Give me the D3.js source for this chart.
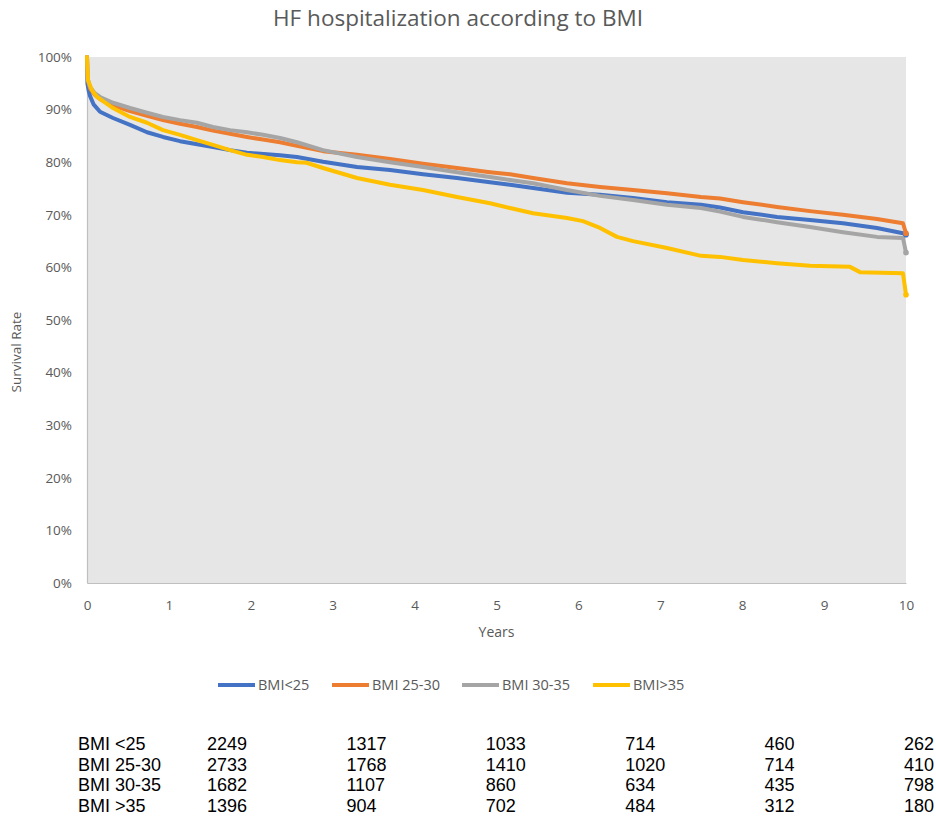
<!DOCTYPE html>
<html>
<head>
<meta charset="utf-8">
<script src="https://cdn.jsdelivr.net/npm/d3@7"></script>
<style>
  body { margin: 0; background: #fff; }
  svg { display: block; }
</style>
</head>
<body>
<div id="chart"></div>
<script>
// survival curves, [years, survival %]
const bmiUnder25 = [[0,100],[0.005,95],[0.02,93.6],[0.037,92.6],[0.08,91.0],[0.159,89.6],[0.317,88.4],[0.525,87.1],[0.733,85.7],[0.928,84.8],[1.136,84.0],[1.538,82.9],[1.746,82.3],[1.954,81.8],[2.357,81.3],[2.564,81.0],[2.882,80.1],[3.297,79.1],[3.7,78.5],[4.103,77.7],[4.518,77.0],[4.921,76.2],[5.165,75.7],[5.446,75.1],[5.861,74.2],[6.264,73.8],[6.667,73.2],[7.082,72.4],[7.497,71.9],[7.729,71.4],[8.01,70.5],[8.425,69.6],[8.828,69.0],[9.231,68.4],[9.646,67.5],[9.963,66.5],[10,66.2]];
const bmi25to30 = [[0,100],[0.005,96],[0.037,94.0],[0.09,92.9],[0.159,92.0],[0.317,90.8],[0.525,89.7],[0.733,88.8],[0.928,88.0],[1.136,87.3],[1.343,86.7],[1.538,86.0],[1.746,85.4],[1.954,84.8],[2.149,84.3],[2.357,83.8],[2.564,83.1],[2.882,82.1],[3.297,81.4],[3.7,80.6],[4.103,79.7],[4.518,78.9],[4.921,78.1],[5.165,77.7],[5.446,77.0],[5.861,76.0],[6.264,75.3],[6.667,74.7],[7.082,74.1],[7.497,73.4],[7.729,73.1],[8.01,72.4],[8.425,71.5],[8.828,70.7],[9.231,70.0],[9.646,69.2],[9.963,68.4],[10,66.5]];
const bmi30to35 = [[0,100],[0.005,96],[0.037,94.3],[0.09,93.2],[0.159,92.4],[0.317,91.3],[0.525,90.3],[0.733,89.4],[0.928,88.6],[1.136,88.0],[1.343,87.5],[1.538,86.7],[1.746,86.1],[1.954,85.7],[2.149,85.2],[2.357,84.6],[2.564,83.8],[2.882,82.3],[3.297,81.0],[3.7,80.0],[4.103,79.1],[4.518,78.1],[4.921,77.2],[5.165,76.6],[5.446,76.0],[5.861,74.7],[6.264,73.6],[6.667,72.8],[7.082,71.9],[7.497,71.3],[7.729,70.6],[8.01,69.6],[8.425,68.6],[8.828,67.7],[9.231,66.7],[9.646,65.8],[9.963,65.6],[10,62.8]];
const bmiOver35 = [[0,100],[0.012,95.6],[0.06,93.7],[0.122,92.4],[0.317,90.3],[0.525,88.6],[0.733,87.5],[0.928,86.1],[1.136,85.2],[1.343,84.2],[1.538,83.3],[1.746,82.3],[1.954,81.4],[2.149,81.0],[2.357,80.4],[2.564,80.0],[2.68,79.9],[2.882,78.9],[3.297,77.0],[3.7,75.7],[4.103,74.7],[4.518,73.4],[4.921,72.2],[5.165,71.3],[5.446,70.3],[5.861,69.4],[6.056,68.8],[6.264,67.5],[6.471,65.8],[6.667,65.0],[7.082,63.7],[7.497,62.2],[7.729,62.0],[8.01,61.4],[8.425,60.8],[8.828,60.3],[9.316,60.1],[9.438,59.1],[9.963,58.9],[10,54.8]];

const seriesNames = ["BMI<25", "BMI 25-30", "BMI 30-35", "BMI>35"];
const seriesColors = ["#4472C4", "#ED7D31", "#A5A5A5", "#FFC000"];
const yTicks = [0, 10, 20, 30, 40, 50, 60, 70, 80, 90, 100];
const xTicks = [0, 1, 2, 3, 4, 5, 6, 7, 8, 9, 10];

// numbers at risk table under the chart
const riskGroups = ["BMI <25", "BMI 25-30", "BMI 30-35", "BMI >35"];
const riskCounts = [
  [2249, 1317, 1033, 714, 460, 262],
  [2733, 1768, 1410, 1020, 714, 410],
  [1682, 1107, 860, 634, 435, 798],
  [1396, 904, 702, 484, 312, 180]
];

const width = 936, height = 823;
const margin = {top: 57, left: 87, right: 30, bottom: 240};
const plotW = width - margin.left - margin.right,   // 819
      plotH = height - margin.top - margin.bottom;  // 526
const grey = "#595959";
const font = "'Open Sans', 'Noto Sans', sans-serif";

const svg = d3.select("#chart").append("svg")
  .attr("width", width).attr("height", height)
  .style("font-family", font);

const x = d3.scaleLinear().domain([0, 10]).range([margin.left, margin.left + plotW]);
const y = d3.scaleLinear().domain([0, 100]).range([margin.top + plotH, margin.top]);

// title
svg.append("text")
  .attr("x", 458).attr("y", 26)
  .attr("text-anchor", "middle")
  .attr("font-size", 22.5).attr("fill", grey)
  .text("HF hospitalization according to BMI");

// plot background
svg.append("rect")
  .attr("x", x(0)).attr("y", y(100))
  .attr("width", x(10) - x(0)).attr("height", y(0) - y(100))
  .attr("fill", "#E6E6E6");

// axes
const yAxis = svg.append("g")
  .attr("transform", `translate(${x(0)},0)`)
  .call(d3.axisLeft(y).tickValues(yTicks).tickSize(0).tickPadding(15).tickFormat(d => d + "%"));
const xAxis = svg.append("g")
  .attr("transform", `translate(0,${y(0)})`)
  .call(d3.axisBottom(x).tickValues(xTicks).tickSize(0).tickPadding(17).tickFormat(d3.format("d")));
[yAxis, xAxis].forEach(g => {
  g.select(".domain").attr("stroke", "#BFBFBF").attr("stroke-width", 1.2);
  g.selectAll("text").attr("fill", grey).attr("font-size", 13.5).style("font-family", font);
});

svg.append("text")
  .attr("x", x(5)).attr("y", 637)
  .attr("text-anchor", "middle")
  .attr("font-size", 14).attr("fill", grey)
  .text("Years");

svg.append("text")
  .attr("transform", "translate(21,352) rotate(-90)")
  .attr("text-anchor", "middle")
  .attr("font-size", 13.5).attr("fill", grey)
  .text("Survival Rate");

// curves
const line = d3.line().x(d => x(d[0])).y(d => y(d[1]));
const allSeries = [bmiUnder25, bmi25to30, bmi30to35, bmiOver35];

svg.append("g").selectAll("path")
  .data(allSeries)
  .join("path")
    .attr("d", line)
    .attr("fill", "none")
    .attr("stroke", (d, i) => seriesColors[i])
    .attr("stroke-width", 4)
    .attr("stroke-linejoin", "round")
    .attr("stroke-linecap", "round");

// end markers
svg.append("g").selectAll("circle")
  .data(allSeries)
  .join("circle")
    .attr("cx", d => x(d[d.length - 1][0]))
    .attr("cy", d => y(d[d.length - 1][1]))
    .attr("r", 2.8)
    .attr("fill", (d, i) => seriesColors[i]);

// legend
const legendX = [218, 332, 462, 593];
const legend = svg.append("g").selectAll("g")
  .data(seriesNames)
  .join("g")
    .attr("transform", (d, i) => `translate(${legendX[i]},685)`);
legend.append("line")
  .attr("x1", 0).attr("x2", 37)
  .attr("stroke", (d, i) => seriesColors[i])
  .attr("stroke-width", 4);
legend.append("circle")
  .attr("cx", 18.5).attr("r", 2)
  .attr("fill", (d, i) => seriesColors[i]);
legend.append("text")
  .attr("x", 40).attr("y", 5)
  .attr("font-size", 14.5).attr("fill", grey)
  .text(d => d);

// numbers at risk
const colX = d3.scaleLinear().domain([0, 5]).range([207, 904]);
const rowY = d3.scaleLinear().domain([0, 3]).range([750, 812]);
const rows = svg.append("g")
  .style("font-family", "'Liberation Sans', Arial, sans-serif")
  .attr("font-size", 18).attr("fill", "#000")
  .selectAll("g")
  .data(riskGroups)
  .join("g")
    .attr("transform", (d, i) => `translate(0,${rowY(i)})`);
rows.append("text").attr("x", 78).text(d => d);
rows.selectAll("text.n")
  .data((d, i) => riskCounts[i])
  .join("text")
    .attr("class", "n")
    .attr("x", (d, j) => colX(j))
    .text(d => d);
</script>
</body>
</html>
